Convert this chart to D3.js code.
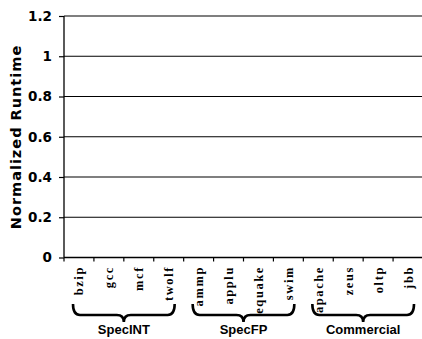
<!DOCTYPE html>
<html>
<head>
<meta charset="utf-8">
<script src="https://cdn.jsdelivr.net/npm/d3@7/dist/d3.min.js"></script>
<style>
  html, body { margin: 0; padding: 0; background: #fff; }
  svg { display: block; }
</style>
</head>
<body>
<svg id="chart" width="422" height="339"></svg>
<script>
// Benchmarks along the x axis, grouped by suite
const categories = ["bzip", "gcc", "mcf", "twolf", "ammp", "applu", "equake", "swim",
                    "apache", "zeus", "oltp", "jbb"];
const groupNames = ["SpecINT", "SpecFP", "Commercial"];
const groupMembers = [
  ["bzip", "gcc", "mcf", "twolf"],
  ["ammp", "applu", "equake", "swim"],
  ["apache", "zeus", "oltp", "jbb"]
];
const yTicks = [0, 0.2, 0.4, 0.6, 0.8, 1, 1.2];
const yTickLabels = ["0", "0.2", "0.4", "0.6", "0.8", "1", "1.2"];

const svg = d3.select("#chart");
const plotLeft = 64, plotRight = 423, plotTop = 16, plotBottom = 257.5;

const x = d3.scaleBand().domain(categories).range([plotLeft, plotRight]).paddingInner(0).paddingOuter(0);
const y = d3.scaleLinear().domain([0, 1.2]).range([plotBottom, plotTop]);

// Horizontal grid lines
svg.append("g")
  .selectAll("line")
  .data(yTicks.filter(d => d > 0))
  .join("line")
  .attr("x1", plotLeft).attr("x2", 422)
  .attr("y1", d => y(d)).attr("y2", d => y(d))
  .attr("stroke", "#000").attr("stroke-width", 1.2);

// Y axis
const yAxis = svg.append("g")
  .attr("transform", `translate(${plotLeft},0)`)
  .call(d3.axisLeft(y).tickValues(yTicks)
    .tickFormat((d, i) => yTickLabels[i]).tickSize(5).tickPadding(7));
yAxis.select(".domain").attr("stroke", "#000").attr("stroke-width", 1.3).attr("d", `M0,${plotTop}V${plotBottom}`);
yAxis.selectAll(".tick line").attr("stroke", "#000").attr("stroke-width", 1.2);
yAxis.selectAll(".tick text")
  .attr("font-family", "DejaVu Sans")
  .attr("font-weight", "bold")
  .attr("font-size", 13.5)
  .attr("fill", "#000");

// X axis with ticks at category boundaries
const boundaries = categories.map(c => x(c));
svg.append("line")
  .attr("x1", plotLeft).attr("x2", 422)
  .attr("y1", plotBottom).attr("y2", plotBottom)
  .attr("stroke", "#000").attr("stroke-width", 1.3);
svg.append("g")
  .selectAll("line")
  .data(boundaries)
  .join("line")
  .attr("x1", d => d).attr("x2", d => d)
  .attr("y1", plotBottom).attr("y2", plotBottom + 4)
  .attr("stroke", "#000").attr("stroke-width", 1.2);

// Rotated benchmark labels
svg.append("g")
  .selectAll("text")
  .data(categories)
  .join("text")
  .attr("transform", d => `translate(${x(d) + x.bandwidth() / 2 + 4.5},266) rotate(-90)`)
  .attr("text-anchor", "end")
  .attr("font-family", "Liberation Serif")
  .attr("font-weight", "bold")
  .attr("font-size", 12.5)
  .attr("letter-spacing", 1.6)
  .attr("fill", "#000")
  .text(d => d);

// Curly braces and suite names
const braceTop = 304, braceMid = 315, braceTip = 322, r = 7;
groupMembers.forEach((members, i) => {
  const x0 = x(members[0]);
  const x1 = x(members[members.length - 1]) + x.bandwidth();
  const a = x0 + 9, b = x1 - 9, m = (x0 + x1) / 2;
  const p = `M${a},${braceTop} Q${a},${braceMid} ${a + r},${braceMid} L${m - r},${braceMid} ` +
            `Q${m},${braceMid} ${m},${braceTip} Q${m},${braceMid} ${m + r},${braceMid} ` +
            `L${b - r},${braceMid} Q${b},${braceMid} ${b},${braceTop}`;
  svg.append("path").attr("d", p).attr("fill", "none")
    .attr("stroke", "#000").attr("stroke-width", 2.6);
  svg.append("text")
    .attr("x", m).attr("y", 334)
    .attr("text-anchor", "middle")
    .attr("font-family", "Liberation Sans")
    .attr("font-weight", "bold")
    .attr("font-size", 13)
    .attr("fill", "#000")
    .text(groupNames[i]);
});

// Y axis title
svg.append("text")
  .attr("transform", `translate(21,137) rotate(-90)`)
  .attr("text-anchor", "middle")
  .attr("font-family", "DejaVu Sans")
  .attr("font-weight", "bold")
  .attr("font-size", 14.5)
  .attr("letter-spacing", 1)
  .attr("fill", "#000")
  .text("Normalized Runtime");
</script>
</body>
</html>
